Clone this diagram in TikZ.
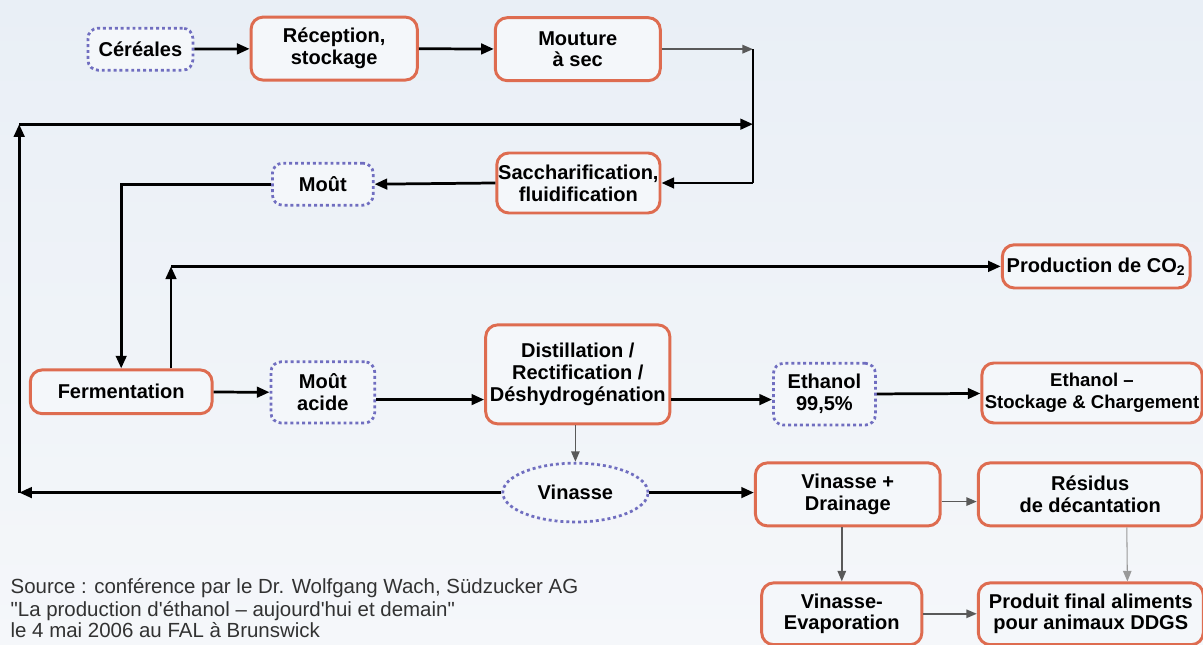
\documentclass[tikz,border=0pt]{standalone}
\usepackage{fontspec}
\setmainfont{Liberation Sans}
\usetikzlibrary{arrows.meta,shapes.geometric}
\definecolor{boxred}{RGB}{222,108,80}
\definecolor{dotblue}{RGB}{112,110,192}
\definecolor{bgtop}{RGB}{233,239,246}
\definecolor{bgbot}{RGB}{245,247,250}
\definecolor{boxfill}{RGB}{244,247,250}
\definecolor{srcgray}{RGB}{50,50,50}
\tikzset{
	procbox/.style={draw=boxred,line width=1.4pt,rounded corners=0.2cm,fill=boxfill,inner sep=0pt,align=center,font=\bfseries\fontsize{9.5}{10.4}\selectfont},
	databox/.style={draw=dotblue,line width=1.3pt,dash pattern=on 1.4pt off 1.4pt,rounded corners=0.17cm,fill=boxfill,inner sep=0pt,align=center,font=\bfseries\fontsize{9.5}{10.4}\selectfont},
	flow/.style={line width=1.3pt,-{Triangle[length=6pt,width=5pt]}},
	thinflow/.style={line width=0.8pt,draw=black!65,-{Triangle[length=5pt,width=4pt]}},
	joinline/.style={line width=1.3pt},
	srctext/.style={anchor=base west,inner sep=0pt,text=srcgray,font=\fontsize{9.7}{12}\selectfont}
}
\begin{document}
\begin{tikzpicture}
		\shade[top color=bgtop,bottom color=bgbot] (0,0) rectangle (20.05,10.75);
		\useasboundingbox (0,0) rectangle (20.05,10.75);
		% upper chain
		\node[databox,minimum width=1.75cm,minimum height=0.70cm] (cer) at (2.34,9.93) {Céréales};
		\node[procbox,minimum width=2.77cm,minimum height=1.05cm] (rec) at (5.57,9.94) {Réception,\\stockage};
		\node[procbox,minimum width=2.75cm,minimum height=1.05cm] (mou) at (9.63,9.93) {Mouture\\à sec};
		\node[procbox,minimum width=2.72cm,minimum height=1.0cm] (sac) at (9.64,7.70) {Saccharification,\\fluidification};
		\node[databox,minimum width=1.68cm,minimum height=0.70cm] (mot) at (5.38,7.68) {Moût};
		% middle chain
		\node[procbox,minimum width=3.03cm,minimum height=0.73cm] (fer) at (2.02,4.22) {Fermentation};
		\node[databox,minimum width=1.73cm,minimum height=1.02cm] (mac) at (5.38,4.21) {Moût\\acide};
		\node[procbox,minimum width=3.07cm,minimum height=1.65cm] (dis) at (9.63,4.51) {Distillation /\\Rectification /\\Déshydrogénation};
		\node[databox,minimum width=1.70cm,minimum height=1.03cm] (eth) at (13.74,4.18) {Ethanol\\99,5\%};
		\node[procbox,minimum width=3.67cm,minimum height=1.0cm,font=\bfseries\fontsize{8.8}{10.4}\selectfont] (sto) at (18.2,4.2) {Ethanol --\\Stockage \& Chargement};
		\node[procbox,minimum width=3.13cm,minimum height=0.72cm] (co2) at (18.27,6.31) {Production de CO\textsubscript{2}};
		% lower chain
		\node[databox,ellipse,minimum width=2.42cm,minimum height=0.98cm] (vin) at (9.59,2.54) {Vinasse};
		\node[procbox,minimum width=3.08cm,minimum height=1.05cm] (dra) at (14.13,2.51) {Vinasse +\\Drainage};
		\node[procbox,minimum width=3.73cm,minimum height=1.05cm] (res) at (18.17,2.51) {Résidus\\de décantation};
		\node[procbox,minimum width=2.67cm,minimum height=1.03cm] (eva) at (14.03,0.52) {Vinasse-\\Evaporation};
		\node[procbox,minimum width=3.75cm,minimum height=1.03cm] (pro) at (18.18,0.52) {Produit final aliments\\pour animaux DDGS};
		% corners of the loops
		\coordinate (ctop) at (12.55,9.93);
		\coordinate (cbot) at (12.55,7.70);
		\coordinate (cvl) at (0.32,2.54);
		\coordinate (cul) at (0.32,8.68);
		\coordinate (cur) at (12.55,8.68);
		\coordinate (fup) at ([xshift=0.83cm]fer.north);
		\coordinate (fco) at (fup |- co2.west);
		\coordinate (din) at ([yshift=-0.42cm]dis.west);
		\coordinate (dout) at ([yshift=-0.42cm]dis.east);
		\draw[flow] (cer) -- (rec);
		\draw[flow] (rec) -- (mou);
		\draw[thinflow] (mou.east) -- (ctop);
		\draw[joinline] (ctop) -- (cbot);
		\draw[flow] (cbot) -- (sac.east);
		\draw[flow] (sac.west) -- (mot.east);
		\draw[flow] (mot.west) -| (fer.north);
		\draw[flow] (vin.west) -- (cvl);
		\draw[flow] (cvl) -- (cul);
		\draw[flow] (cul) -- (cur);
		\draw[flow] (fup) -- (fco);
		\draw[flow] (fco) -- (co2.west);
		\draw[flow] (fer) -- (mac);
		\draw[flow] (mac.east |- din) -- (din);
		\draw[flow] (dout) -- (eth.west |- dout);
		\draw[flow] (eth) -- (sto);
		\draw[thinflow] (vin.north |- dis.south) -- (vin.north);
		\draw[flow] (vin.east) -- (dra.west |- vin.east);
		\draw[thinflow] ([yshift=-0.12cm]dra.east) -- ([yshift=-0.12cm]res.west);
		\draw[thinflow] (eva.north |- dra.south) -- (eva.north);
		\draw[thinflow,line width=0.5pt,draw=black!40] ([xshift=0.61cm]res.south) -- ([xshift=0.61cm]pro.north);
		\draw[thinflow] (eva) -- (pro);
		% source
		\node[srctext] (src1) at (0.17,0.85) {Source : conférence par le Dr. Wolfgang Wach, Südzucker AG};
		\node[srctext] (src2) at (0.17,0.48) {\textquotedbl La production d\textquotesingle éthanol -- aujourd\textquotesingle hui et demain\textquotedbl};
		\node[srctext] (src3) at (0.17,0.12) {le 4 mai 2006 au FAL à Brunswick};
	\end{tikzpicture}
\end{document}
